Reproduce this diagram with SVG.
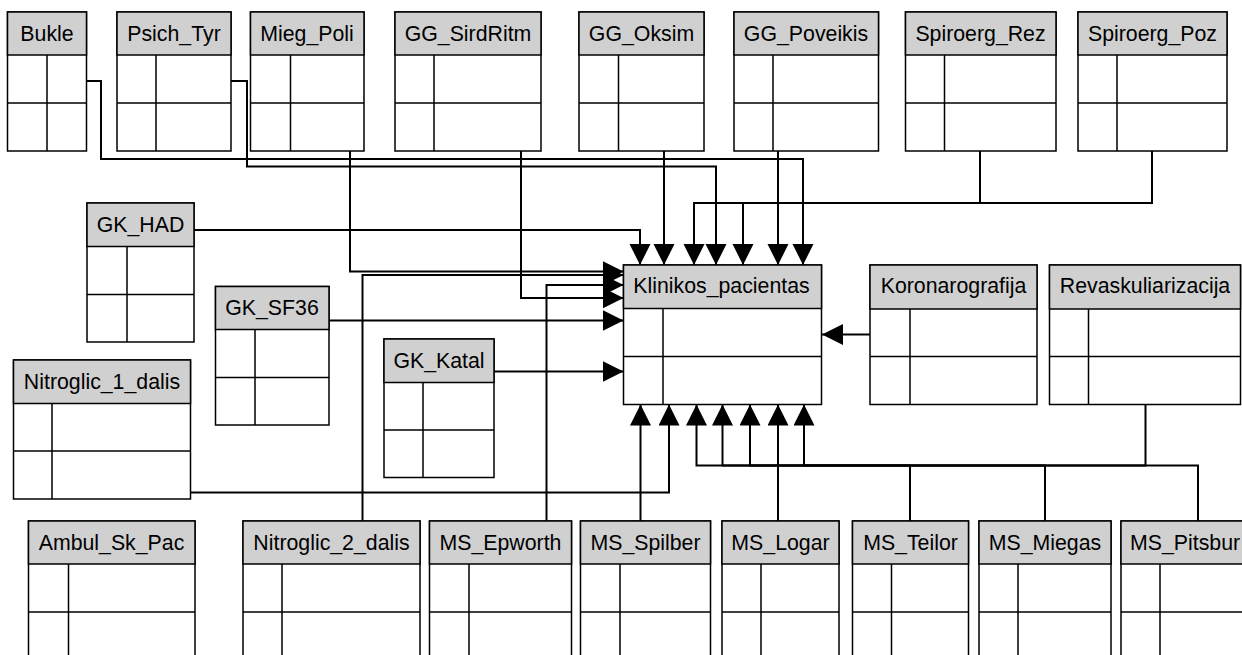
<svg xmlns="http://www.w3.org/2000/svg" width="1242" height="655" viewBox="0 0 1242 655">
<style>
.box{fill:#fff;stroke:#000;stroke-width:1.5}
.hdr{fill:#d0d0d0;stroke:#000;stroke-width:1.5}
.ln{stroke:#000;stroke-width:1.5;fill:none}
.t{font-family:"Liberation Sans",Arial,sans-serif;font-size:21.3px;fill:#000;text-anchor:middle}
.c{fill:none;stroke:#000;stroke-width:2}
</style>
<defs>
<marker id="ar" markerUnits="userSpaceOnUse" markerWidth="22" markerHeight="22" refX="21" refY="10.5" orient="auto">
<path d="M0,0 L21,10.5 L0,21 z" fill="#000"/>
</marker>
</defs>
<rect width="1242" height="655" fill="#fff"/>

<g id="connectors">
<path class="c" marker-end="url(#ar)" d="M86.5,81 H101 V159 H803 V265"/>
<path class="c" marker-end="url(#ar)" d="M231,81 H247 V166.5 H716 V265"/>
<path class="c" marker-end="url(#ar)" d="M350,151 V271.5 H623.5"/>
<path class="c" marker-end="url(#ar)" d="M521,151 V298 H623.5"/>
<path class="c" marker-end="url(#ar)" d="M664,151 V265"/>
<path class="c" marker-end="url(#ar)" d="M778,151 V265"/>
<path class="c" marker-end="url(#ar)" d="M980,151 V203 H694 V265"/>
<path class="c" marker-end="url(#ar)" d="M1152,151 V203 H743 V265"/>
<path class="c" marker-end="url(#ar)" d="M194,230 H640 V265"/>
<path class="c" marker-end="url(#ar)" d="M329,320.5 H623.5"/>
<path class="c" marker-end="url(#ar)" d="M494,371.5 H623.5"/>
<path class="c" marker-end="url(#ar)" d="M190.5,492.5 H669 V404.5"/>
<path class="c" marker-end="url(#ar)" d="M362.5,521 V275 H623.5"/>
<path class="c" marker-end="url(#ar)" d="M546.5,521 V285 H623.5"/>
<path class="c" marker-end="url(#ar)" d="M640.5,521 V404.5"/>
<path class="c" marker-end="url(#ar)" d="M778,521 V404.5"/>
<path class="c" marker-end="url(#ar)" d="M910,521 V465.5 H722.5 V404.5"/>
<path class="c" marker-end="url(#ar)" d="M1045,521 V465.5 H750 V404.5"/>
<path class="c" marker-end="url(#ar)" d="M1198,521 V465.5 H804 V404.5"/>
<path class="c" marker-end="url(#ar)" d="M1145.5,405 V465.5 H696.5 V404.5"/>
<path class="c" marker-end="url(#ar)" d="M870,334.5 H822"/>
</g>

<g id="Bukle"><rect class="box" x="7.5" y="12" width="79" height="139"/><rect class="hdr" x="7.5" y="12" width="79" height="43"/><path class="ln" d="M7.5,103 H86.5 M47,55 V151"/><text class="t" x="47" y="40.5">Bukle</text></g>
<g id="Psich_Tyr"><rect class="box" x="117" y="12" width="114" height="139"/><rect class="hdr" x="117" y="12" width="114" height="43"/><path class="ln" d="M117,103 H231 M156,55 V151"/><text class="t" x="174" y="40.5">Psich_Tyr</text></g>
<g id="Mieg_Poli"><rect class="box" x="250.5" y="12" width="113.5" height="139"/><rect class="hdr" x="250.5" y="12" width="113.5" height="43"/><path class="ln" d="M250.5,103 H364 M290.5,55 V151"/><text class="t" x="307" y="40.5">Mieg_Poli</text></g>
<g id="GG_SirdRitm"><rect class="box" x="395" y="12" width="146" height="139"/><rect class="hdr" x="395" y="12" width="146" height="43"/><path class="ln" d="M395,103 H541 M434,55 V151"/><text class="t" x="468" y="40.5">GG_SirdRitm</text></g>
<g id="GG_Oksim"><rect class="box" x="579" y="12" width="125" height="139"/><rect class="hdr" x="579" y="12" width="125" height="43"/><path class="ln" d="M579,103 H704 M618.5,55 V151"/><text class="t" x="641.5" y="40.5">GG_Oksim</text></g>
<g id="GG_Poveikis"><rect class="box" x="734" y="12" width="144.5" height="139"/><rect class="hdr" x="734" y="12" width="144.5" height="43"/><path class="ln" d="M734,103 H878.5 M773,55 V151"/><text class="t" x="806" y="40.5">GG_Poveikis</text></g>
<g id="Spiroerg_Rez"><rect class="box" x="905.5" y="12" width="150.5" height="139"/><rect class="hdr" x="905.5" y="12" width="150.5" height="43"/><path class="ln" d="M905.5,103 H1056 M944.5,55 V151"/><text class="t" x="980.5" y="40.5">Spiroerg_Rez</text></g>
<g id="Spiroerg_Poz"><rect class="box" x="1078" y="12" width="149" height="139"/><rect class="hdr" x="1078" y="12" width="149" height="43"/><path class="ln" d="M1078,103 H1227 M1117,55 V151"/><text class="t" x="1152.5" y="40.5">Spiroerg_Poz</text></g>

<g id="GK_HAD"><rect class="box" x="87" y="203" width="107" height="139"/><rect class="hdr" x="87" y="203" width="107" height="43.5"/><path class="ln" d="M87,294.5 H194 M127,246.5 V342"/><text class="t" x="140.5" y="231.5">GK_HAD</text></g>
<g id="GK_SF36"><rect class="box" x="215.5" y="286.5" width="113.5" height="138.5"/><rect class="hdr" x="215.5" y="286.5" width="113.5" height="43"/><path class="ln" d="M215.5,377.5 H329 M255,329.5 V425"/><text class="t" x="272" y="315">GK_SF36</text></g>
<g id="Nitroglic_1_dalis"><rect class="box" x="13.5" y="360" width="177" height="139"/><rect class="hdr" x="13.5" y="360" width="177" height="43.5"/><path class="ln" d="M13.5,451 H190.5 M52,403.5 V499"/><text class="t" x="102" y="389">Nitroglic_1_dalis</text></g>
<g id="GK_Katal"><rect class="box" x="384" y="339" width="110" height="138.5"/><rect class="hdr" x="384" y="339" width="110" height="43.5"/><path class="ln" d="M384,430 H494 M423,382.5 V477.5"/><text class="t" x="439" y="368">GK_Katal</text></g>
<g id="Klinikos_pacientas"><rect class="box" x="623.5" y="265" width="198" height="139.5"/><rect class="hdr" x="623.5" y="265" width="198" height="43.5"/><path class="ln" d="M623.5,356.5 H821.5 M663,308.5 V404.5"/><text class="t" x="721.5" y="292.5">Klinikos_pacientas</text></g>
<g id="Koronarografija"><rect class="box" x="870" y="265" width="167" height="139.5"/><rect class="hdr" x="870" y="265" width="167" height="44"/><path class="ln" d="M870,356.5 H1037 M910,309 V404.5"/><text class="t" x="953.5" y="293">Koronarografija</text></g>
<g id="Revaskuliarizacija"><rect class="box" x="1049.5" y="265" width="191" height="139.5"/><rect class="hdr" x="1049.5" y="265" width="191" height="44"/><path class="ln" d="M1049.5,356.5 H1240.5 M1088.5,309 V404.5"/><text class="t" x="1145" y="293">Revaskuliarizacija</text></g>

<g id="Ambul_Sk_Pac"><rect class="box" x="28.5" y="521" width="166.5" height="145"/><rect class="hdr" x="28.5" y="521" width="166.5" height="43"/><path class="ln" d="M28.5,612 H195 M68.5,564 V666"/><text class="t" x="111.5" y="549.5">Ambul_Sk_Pac</text></g>
<g id="Nitroglic_2_dalis"><rect class="box" x="243" y="521" width="177" height="145"/><rect class="hdr" x="243" y="521" width="177" height="43"/><path class="ln" d="M243,612 H420 M282,564 V666"/><text class="t" x="331.5" y="549.5">Nitroglic_2_dalis</text></g>
<g id="MS_Epworth"><rect class="box" x="429.5" y="521" width="142" height="145"/><rect class="hdr" x="429.5" y="521" width="142" height="43"/><path class="ln" d="M429.5,612 H571.5 M469,564 V666"/><text class="t" x="500.5" y="549.5">MS_Epworth</text></g>
<g id="MS_Spilber"><rect class="box" x="580.5" y="521" width="130" height="145"/><rect class="hdr" x="580.5" y="521" width="130" height="43"/><path class="ln" d="M580.5,612 H710.5 M620,564 V666"/><text class="t" x="645.5" y="549.5">MS_Spilber</text></g>
<g id="MS_Logar"><rect class="box" x="722" y="521" width="117" height="145"/><rect class="hdr" x="722" y="521" width="117" height="43"/><path class="ln" d="M722,612 H839 M761,564 V666"/><text class="t" x="780.5" y="549.5">MS_Logar</text></g>
<g id="MS_Teilor"><rect class="box" x="852.5" y="521" width="116" height="145"/><rect class="hdr" x="852.5" y="521" width="116" height="43"/><path class="ln" d="M852.5,612 H968.5 M891.5,564 V666"/><text class="t" x="910.5" y="549.5">MS_Teilor</text></g>
<g id="MS_Miegas"><rect class="box" x="979" y="521" width="132" height="145"/><rect class="hdr" x="979" y="521" width="132" height="43"/><path class="ln" d="M979,612 H1111 M1018,564 V666"/><text class="t" x="1045" y="549.5">MS_Miegas</text></g>
<g id="MS_Pitsbur"><rect class="box" x="1121" y="521" width="200" height="145"/><rect class="hdr" x="1121" y="521" width="200" height="43"/><path class="ln" d="M1121,612 H1321 M1160,564 V666"/><text class="t" x="1130" y="549.5" style="text-anchor:start">MS_Pitsbur</text></g>
</svg>
